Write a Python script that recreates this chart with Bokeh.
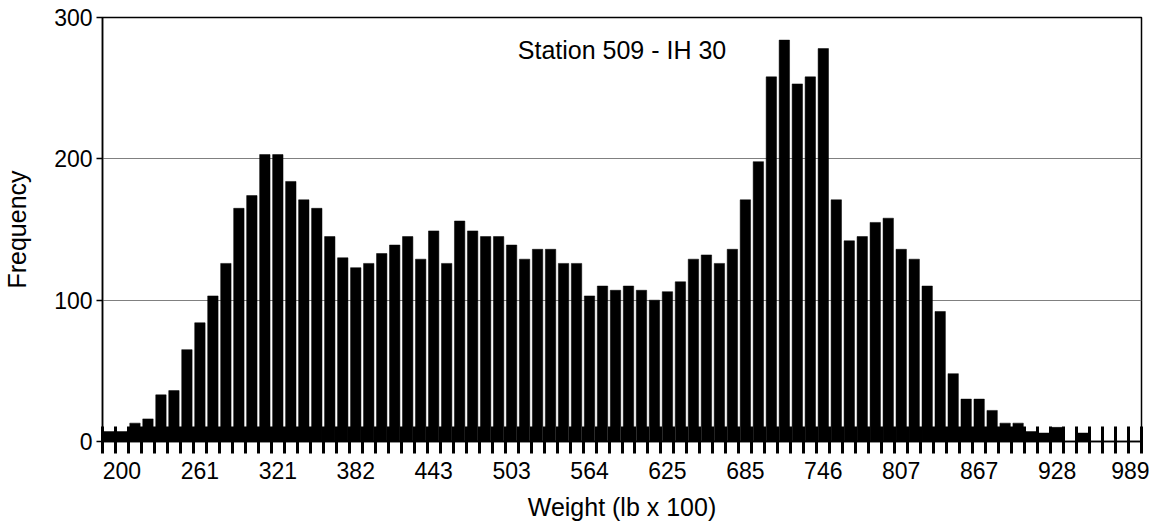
from bokeh.plotting import figure
from bokeh.models import FixedTicker, Label, Range1d
from bokeh.embed import file_html
from bokeh.resources import INLINE

# Frequency per weight bin (80 bins, bin width ~10.11 x 100 lb)
freq = [7, 7, 13, 16, 33, 36, 65, 84, 103, 126,
        165, 174, 203, 203, 184, 171, 165, 145, 130, 123,
        126, 133, 139, 145, 129, 149, 126, 156, 149, 145,
        145, 139, 129, 136, 136, 126, 126, 103, 110, 107,
        110, 107, 100, 106, 113, 129, 132, 126, 136, 171,
        198, 258, 284, 253, 258, 278, 171, 142, 145, 155,
        158, 136, 129, 110, 92, 48, 30, 30, 22, 13,
        13, 7, 6, 10, 0, 6, 0, 0, 0, 0]
tick_labels = ["200", "261", "321", "382", "443", "503", "564",
               "625", "685", "746", "807", "867", "928", "989"]
label_bins = [1, 7, 13, 19, 25, 31, 37, 43, 49, 55, 61, 67, 73, 79]
y_ticks = [0, 100, 200, 300]
chart_title = "Station 509 - IH 30"
x_title = "Weight (lb x 100)"
y_title = "Frequency"

bins = list(range(len(freq)))
FONT = "Liberation Sans"

p = figure(output_backend="svg", toolbar_location=None,
           frame_width=1039, frame_height=424,
           min_border_left=102, min_border_right=8,
           min_border_top=17, min_border_bottom=80,
           x_range=Range1d(-0.5, len(freq) - 0.5),
           y_range=Range1d(0, 300))

p.vbar(x=bins, top=freq, width=0.8, fill_color="black", line_color="black", line_width=0.5)

# x axis: bin-edge ticks crossing the axis line, labels every 6 bins
p.xaxis.ticker = FixedTicker(ticks=label_bins,
                             minor_ticks=[b - 0.5 for b in range(len(freq) + 1)])
p.xaxis.major_label_overrides = {b: t for b, t in zip(label_bins, tick_labels)}
p.xaxis.major_tick_in = 0
p.xaxis.major_tick_out = 0
p.xaxis.minor_tick_in = 15
p.xaxis.minor_tick_out = 12
p.xaxis.minor_tick_line_width = 3
p.xaxis.minor_tick_line_color = "black"
p.xaxis.major_label_standoff = 8
p.xaxis.axis_label = x_title
p.xaxis.axis_label_standoff = 11

p.yaxis.ticker = FixedTicker(ticks=y_ticks)
p.yaxis.major_tick_in = 0
p.yaxis.major_tick_out = 6
p.yaxis.minor_tick_line_color = None
p.yaxis.major_label_standoff = 4
p.yaxis.axis_label = y_title
p.yaxis.axis_label_standoff = 20

for ax in (p.xaxis, p.yaxis):
    ax.axis_line_color = "black"
    ax.axis_line_width = 1.5
    ax.major_tick_line_color = "black"
    ax.major_tick_line_width = 1.5
    ax.major_label_text_font = FONT
    ax.major_label_text_font_size = "23px"
    ax.major_label_text_color = "black"
    ax.axis_label_text_font = FONT
    ax.axis_label_text_font_size = "25px"
    ax.axis_label_text_font_style = "normal"
    ax.axis_label_text_color = "black"

p.xgrid.visible = False
p.ygrid.grid_line_color = "#808080"
p.ygrid.grid_line_width = 1

p.outline_line_color = "black"
p.outline_line_width = 1.5
p.background_fill_color = "white"
p.border_fill_color = "white"

p.add_layout(Label(x=(len(freq) - 1) / 2, y=277, text=chart_title,
                   text_align="center", text_baseline="middle",
                   text_font=FONT, text_font_size="25px", text_color="black"))

open("out.html", "w").write(file_html(p, INLINE))
